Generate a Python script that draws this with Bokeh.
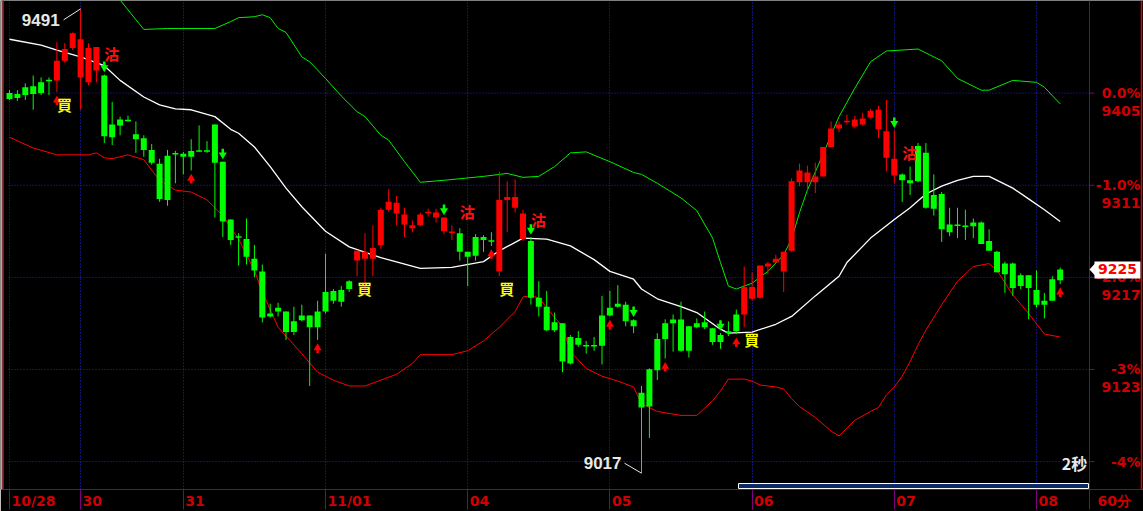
import numpy as np
from bokeh.plotting import figure
from bokeh.models import (Range1d, LinearAxis, FixedTicker, ColumnDataSource, Grid,
                          CustomJSTickFormatter)
from bokeh.core.properties import value
from bokeh.embed import file_html
from bokeh.resources import INLINE

# ---------------- data ----------------
day_labels = ["10/28", "30", "31", "11/01", "04", "05", "06", "07", "08"]
day_start_bars = [0, 9, 22, 40, 58, 76, 94, 112, 130]

opens = [9405, 9404, 9411, 9412, 9416, 9418, 9418, 9438, 9451, 9421,
         9416, 9428, 9423, 9373, 9378, 9377, 9363, 9359, 9347, 9333,
         9341, 9343, 9343, 9346, 9346, 9346, 9373, 9335, 9276, 9258,
         9256, 9236, 9223, 9180, 9186, 9182, 9172, 9178, 9178, 9182,
         9202, 9203, 9204, 9213, 9234, 9236, 9236, 9250, 9286, 9282,
         9271, 9267, 9270, 9283, 9278, 9264, 9263, 9262, 9243, 9258,
         9258, 9254, 9223, 9296, 9288, 9256, 9254, 9196, 9187, 9171,
         9170, 9156, 9155, 9147, 9147, 9178, 9186, 9190, 9189, 9173,
         9099, 9123, 9154, 9170, 9174, 9174, 9167, 9170, 9171, 9165,
         9158, 9162, 9179, 9179, 9195, 9196, 9228, 9232, 9223, 9244,
         9314, 9314, 9314, 9320, 9350, 9369, 9376, 9371, 9373, 9380,
         9368, 9339, 9321, 9322, 9316, 9351, 9344, 9301, 9302, 9271,
         9270, 9269, 9273, 9273, 9254, 9243, 9231, 9231, 9219, 9219,
         9204, 9193, 9215, 9225]
highs = [9408, 9408, 9415, 9423, 9421, 9421, 9457, 9456, 9467, 9491,
         9456, 9452, 9424, 9396, 9381, 9382, 9376, 9362, 9353, 9338,
         9347, 9346, 9345, 9358, 9372, 9356, 9373, 9335, 9276, 9262,
         9277, 9250, 9230, 9190, 9191, 9182, 9187, 9189, 9178, 9193,
         9241, 9205, 9208, 9214, 9244, 9262, 9270, 9288, 9307, 9300,
         9288, 9275, 9283, 9287, 9287, 9278, 9270, 9267, 9243, 9261,
         9260, 9263, 9325, 9315, 9317, 9286, 9258, 9213, 9203, 9181,
         9170, 9158, 9162, 9152, 9156, 9198, 9203, 9209, 9192, 9174,
         9106, 9124, 9160, 9174, 9179, 9192, 9167, 9175, 9182, 9165,
         9160, 9172, 9184, 9228, 9222, 9229, 9233, 9240, 9243, 9318,
         9333, 9331, 9334, 9350, 9376, 9376, 9383, 9382, 9385, 9389,
         9392, 9398, 9367, 9323, 9330, 9354, 9354, 9322, 9304, 9288,
         9288, 9286, 9277, 9274, 9266, 9244, 9233, 9232, 9221, 9219,
         9224, 9201, 9218, 9227]
lows = [9398, 9397, 9398, 9388, 9403, 9403, 9406, 9436, 9449, 9388,
        9413, 9416, 9354, 9352, 9362, 9376, 9344, 9340, 9332, 9294,
        9290, 9313, 9322, 9326, 9345, 9344, 9278, 9258, 9250, 9229,
        9230, 9217, 9171, 9176, 9177, 9153, 9158, 9172, 9106, 9153,
        9180, 9190, 9187, 9202, 9218, 9200, 9218, 9246, 9284, 9270,
        9258, 9263, 9269, 9279, 9273, 9261, 9255, 9234, 9208, 9234,
        9243, 9249, 9218, 9263, 9283, 9254, 9189, 9177, 9162, 9161,
        9120, 9128, 9146, 9139, 9142, 9128, 9177, 9186, 9167, 9160,
        9017, 9053, 9112, 9134, 9141, 9141, 9135, 9165, 9164, 9148,
        9144, 9157, 9159, 9166, 9193, 9195, 9220, 9232, 9202, 9243,
        9310, 9306, 9303, 9320, 9350, 9365, 9373, 9369, 9372, 9379,
        9359, 9325, 9313, 9294, 9301, 9314, 9287, 9280, 9253, 9259,
        9257, 9255, 9257, 9251, 9244, 9222, 9201, 9198, 9205, 9174,
        9186, 9175, 9193, 9210]
closes = [9399, 9400, 9403, 9404, 9405, 9418, 9438, 9450, 9466, 9460,
          9451, 9452, 9361, 9360, 9372, 9377, 9358, 9347, 9334, 9297,
          9296, 9343, 9340, 9340, 9346, 9346, 9334, 9274, 9255, 9258,
          9238, 9224, 9176, 9177, 9182, 9161, 9161, 9173, 9166, 9166,
          9182, 9193, 9192, 9205, 9244, 9243, 9247, 9286, 9294, 9293,
          9281, 9270, 9281, 9283, 9283, 9278, 9263, 9243, 9238, 9239,
          9255, 9254, 9296, 9299, 9299, 9282, 9196, 9187, 9163, 9163,
          9131, 9129, 9148, 9147, 9147, 9147, 9178, 9187, 9172, 9167,
          9084, 9085, 9122, 9154, 9170, 9142, 9142, 9166, 9166, 9151,
          9151, 9160, 9162, 9207, 9207, 9229, 9231, 9236, 9243, 9315,
          9326, 9324, 9320, 9350, 9369, 9373, 9376, 9378, 9379, 9387,
          9388, 9366, 9338, 9316, 9313, 9315, 9288, 9287, 9266, 9263,
          9270, 9269, 9269, 9251, 9244, 9222, 9220, 9206, 9208, 9206,
          9189, 9189, 9193, 9214]

buy_bars = [6, 44, 62, 93]          # 買 signals (start of red runs)
sell_bars = [12, 57, 66, 113]       # 沽 signals (start of green runs)
up_arrow_bars = [6, 23, 39, 61, 76, 83, 92, 133]
down_arrow_bars = [12, 27, 55, 66, 79, 90, 112]

mid_bars = [0, 4, 6, 9, 12, 14, 17, 19, 21, 23, 26, 28, 29, 31, 33, 35, 37, 40, 43, 47,
            52, 56, 60, 62, 65, 68, 71, 74, 76, 79, 80, 82, 85, 87, 90, 91, 94, 97, 99, 102,
            105, 106, 109, 112, 114, 116, 118, 120, 122, 124, 127, 129, 131, 133]
mid_vals = [9460, 9454, 9449, 9442, 9433, 9418, 9401, 9393, 9389, 9388,
            9381, 9368, 9364, 9350, 9330, 9308, 9289, 9264, 9248, 9237,
            9226, 9227, 9233, 9244, 9257, 9256, 9249, 9235, 9223, 9215,
            9205, 9195, 9187, 9181, 9164, 9160, 9161, 9169, 9177, 9198,
            9218, 9232, 9257, 9276, 9288, 9302, 9310, 9316, 9320, 9320,
            9308, 9297, 9286, 9274]
upper_bars = [12, 14, 17, 20, 26, 28, 29, 31, 32, 33, 34, 35, 37, 38, 40, 42, 44, 45, 47, 48,
              50, 52, 55, 60, 63, 65, 67, 69, 71, 73, 76, 79, 80, 82, 85, 87, 89, 90, 91, 92,
              94, 96, 98, 99, 100, 101, 103, 105, 107, 109, 111, 115, 118, 120, 123, 124, 127,
              130, 131, 133]
upper_vals = [9522, 9500, 9470, 9471, 9471, 9478, 9482, 9483, 9485, 9482,
              9471, 9467, 9442, 9437, 9420, 9402, 9386, 9381, 9362, 9357,
              9335, 9314, 9316, 9320, 9323, 9319, 9320, 9330, 9344, 9345,
              9335, 9324, 9322, 9313, 9298, 9285, 9257, 9232, 9208, 9205,
              9211, 9223, 9240, 9256, 9283, 9306, 9343, 9381, 9410, 9437,
              9448, 9450, 9438, 9420, 9408, 9408, 9418, 9416, 9411, 9394]
lower_bars = [0, 3, 6, 10, 11, 12, 13, 15, 17, 19, 21, 23, 25, 27, 29, 31, 32, 34, 37, 39,
              41, 43, 45, 47, 49, 51, 52, 56, 58, 60, 62, 64, 65, 66, 67, 68, 69, 70, 71, 73,
              75, 77, 79, 80, 82, 85, 87, 89, 90, 91, 93, 94, 95, 97, 98, 99, 100, 102, 104, 105,
              106, 107, 109, 110, 111, 112, 113, 114, 115, 116, 118, 120, 122, 124, 125, 127,
              129, 131, 133]
lower_vals = [9360, 9349, 9342, 9342, 9344, 9339, 9338, 9342, 9337, 9316,
              9306, 9304, 9296, 9280, 9256, 9224, 9202, 9166, 9139, 9120,
              9112, 9106, 9106, 9112, 9118, 9129, 9138, 9138, 9142, 9152,
              9166, 9182, 9197, 9198, 9196, 9186, 9176, 9167, 9141, 9124,
              9116, 9111, 9105, 9088, 9080, 9076, 9076, 9091, 9101, 9113,
              9113, 9111, 9107, 9105, 9103, 9093, 9085, 9074, 9060, 9055,
              9063, 9071, 9080, 9084, 9097, 9105, 9116, 9131, 9148, 9163,
              9189, 9213, 9228, 9231, 9224, 9199, 9180, 9159, 9156]

base_price = 9405
pct_levels = [0.0, -1.0, -2.0, -3.0, -4.0]
pct_labels = ["0.0%", "-1.0%", "-2.0%", "-3%", "-4%"]
price_label_levels = 4          # price shown under the first four percent labels
last_price = 9225
timeframe_label = "60分"
refresh_label = "2秒"
buy_text = "買"
sell_text = "沽"

# ---------------- geometry / style ----------------
W, H = 1143, 511
PLOT_L, PLOT_R, FR_B = 8, 1089, 491
BAR_PX = 7.9
BAR0 = 9.0
GRID0_PX = 93.0
PX_PER_PT = 370.0 / (base_price * 0.04)
PT = 1.0 / PX_PER_PT

BG = "#000000"
UP_COL = "#ff0000"
DN_COL = "#00ff00"
AXIS_COL = "#800080"
GRID_COL = "#2424dd"
LBL_RED = "#d00000"
WHITE_TXT = "#e8e8e8"
NUM_FONT = "DejaVu Sans"
CJK_FONT = "Noto Sans CJK TC"
LBL_SIZE = 14


def xdat(px):
    return (px - BAR0) / BAR_PX


def ydat(py):
    return base_price + (GRID0_PX - py) * PT


def text_w(s, size=LBL_SIZE):
    w = 0.0
    for ch in s:
        if ch.isdigit():
            w += 0.696
        elif ch in "/.":
            w += 0.365
        elif ord(ch) > 0x2e80:
            w += 1.0
        else:
            w += 0.6
    return w * size


p = figure(width=W, height=H,
           x_range=Range1d(xdat(0), xdat(W)),
           y_range=Range1d(ydat(FR_B), ydat(0)),
           output_backend="svg", toolbar_location=None,
           x_axis_location=None, y_axis_location=None,
           min_border_left=0, min_border_right=0,
           min_border_top=0, min_border_bottom=H - FR_B,
           background_fill_color=BG, border_fill_color=BG,
           outline_line_color=None)
p.center = [r for r in p.center if not isinstance(r, Grid)]

# ---- bottom (date) axis: separators as minor ticks, labels just right of them ----
sep_x = [float(b) for b in day_start_bars] + [xdat(PLOT_R)]
all_labels = day_labels + [timeframe_label]
label_pad = [2.0] * len(day_labels) + [8.0]
label_x = [s + (pad + text_w(t) / 2) / BAR_PX for s, t, pad in zip(sep_x, all_labels, label_pad)]

xax = LinearAxis(ticker=FixedTicker(ticks=label_x, minor_ticks=sep_x),
                 formatter=CustomJSTickFormatter(
                     args=dict(pos=label_x, labels=all_labels),
                     code="""
                     let best = 0, bd = Infinity;
                     for (let i = 0; i < pos.length; i++) {
                         const d = Math.abs(pos[i] - tick);
                         if (d < bd) { bd = d; best = i; }
                     }
                     return labels[best];
                     """),
                 bounds=(xdat(PLOT_L), xdat(W)),
                 axis_line_color=AXIS_COL,
                 major_tick_line_color=None, major_tick_out=20, major_tick_in=0,
                 minor_tick_line_color=AXIS_COL, minor_tick_out=20, minor_tick_in=0,
                 major_label_standoff=-17,
                 major_label_text_color=LBL_RED,
                 major_label_text_font=NUM_FONT,
                 major_label_text_font_style="bold",
                 major_label_text_font_size=f"{LBL_SIZE}px")
p.add_layout(xax, "below")

# vertical day separators (dotted)
p.add_layout(Grid(dimension=0, ticker=FixedTicker(ticks=day_start_bars),
                  grid_line_color=GRID_COL, grid_line_dash="1 2", grid_line_width=1))

# horizontal percent grid lines (dotted), limited to the price area
grid_prices = [base_price * (1 + v / 100.0) for v in pct_levels]
p.segment(x0=[xdat(PLOT_L)] * len(grid_prices), x1=[xdat(PLOT_R)] * len(grid_prices),
          y0=grid_prices, y1=grid_prices, line_color=GRID_COL, line_dash="1 2",
          line_width=1)

# ---- bollinger-style bands ----
p.line(upper_bars, upper_vals, line_color="#00ee00", line_width=1)
p.line(lower_bars, lower_vals, line_color="#ff0000", line_width=1)
p.line(mid_bars, mid_vals, line_color="#ffffff", line_width=1.3)

# ---- candles (colour = regime between buy / sell signals) ----
n = len(opens)
colours = []
state = DN_COL
for i in range(n):
    if i in buy_bars:
        state = UP_COL
    if i in sell_bars:
        state = DN_COL
    colours.append(state)

o = np.array(opens, float)
c = np.array(closes, float)
bt = np.maximum(o, c)
bb = np.minimum(o, c)
min_h = 1.5 * PT
thin = (bt - bb) < min_h
mid = (bt + bb) / 2
bt = np.where(thin, mid + min_h / 2, bt)
bb = np.where(thin, mid - min_h / 2, bb)

src = ColumnDataSource(dict(x=list(range(n)), h=highs, l=lows, bt=bt, bb=bb, col=colours))
p.segment(x0="x", y0="l", x1="x", y1="h", line_color="col", line_width=1, source=src)
p.vbar(x="x", width=6.0 / BAR_PX, top="bt", bottom="bb", fill_color="col",
       line_color=None, source=src)

# ---- arrows ----
ua_low = [lows[i] for i in up_arrow_bars]
p.segment(x0=up_arrow_bars, x1=up_arrow_bars,
          y0=[v - 9 * PT for v in ua_low], y1=[v - 13 * PT for v in ua_low],
          line_color=UP_COL, line_width=2.5)
p.scatter(up_arrow_bars, [v - 8 * PT for v in ua_low], marker="triangle", size=8,
          fill_color=UP_COL, line_color=None)

da_high = [highs[i] for i in down_arrow_bars]
p.segment(x0=down_arrow_bars, x1=down_arrow_bars,
          y0=[v + 8 * PT for v in da_high], y1=[v + 13 * PT for v in da_high],
          line_color=DN_COL, line_width=2.5)
p.scatter(down_arrow_bars, [v + 7 * PT for v in da_high], marker="inverted_triangle",
          size=8, fill_color=DN_COL, line_color=None)

# ---- buy / sell texts ----
p.text(x=buy_bars, y=[lows[i] for i in buy_bars], text=[buy_text] * len(buy_bars),
       x_offset=7.5, y_offset=12, text_align="center", text_baseline="middle",
       text_color="#ffff00", text_font=value(CJK_FONT), text_font_style="bold",
       text_font_size="15px")
p.text(x=sell_bars, y=[opens[i] for i in sell_bars], text=[sell_text] * len(sell_bars),
       x_offset=7.5, y_offset=-22, text_align="center", text_baseline="middle",
       text_color="#ff1010", text_font=value(CJK_FONT), text_font_style="bold",
       text_font_size="15px")

# ---- extreme labels ----
hi_i = int(np.argmax(highs))
lo_i = int(np.argmin(lows))
hi_v = highs[hi_i]
lo_v = lows[lo_i]
p.segment(x0=[hi_i - 17 / BAR_PX, lo_i - 17 / BAR_PX], y0=[hi_v - 11 * PT, lo_v + 10 * PT],
          x1=[hi_i, lo_i], y1=[hi_v, lo_v], line_color=WHITE_TXT, line_width=1)
p.text(x=[hi_i], y=[hi_v], text=[str(hi_v)], x_offset=-21, y_offset=11,
       text_align="right", text_baseline="middle", text_color=WHITE_TXT,
       text_font=value("Liberation Sans"), text_font_style="bold", text_font_size="17px")
p.text(x=[lo_i], y=[lo_v], text=[str(lo_v)], x_offset=-20, y_offset=-10,
       text_align="right", text_baseline="middle", text_color=WHITE_TXT,
       text_font=value("Liberation Sans"), text_font_style="bold", text_font_size="17px")

p.text(x=[xdat(1074)], y=[ydat(464)], text=[refresh_label], text_align="center",
       text_baseline="middle", text_color=WHITE_TXT, text_font=value(CJK_FONT),
       text_font_style="bold", text_font_size="16px")

# ---- right price scale (drawn through the same scales) ----
p.segment(x0=[xdat(PLOT_R)], x1=[xdat(PLOT_R)], y0=[ydat(0)], y1=[ydat(FR_B)],
          line_color=AXIS_COL, line_width=1)
p.segment(x0=[xdat(PLOT_R)] * len(grid_prices), x1=[xdat(PLOT_R + 5)] * len(grid_prices),
          y0=grid_prices, y1=grid_prices, line_color=AXIS_COL, line_width=1)
p.text(x=[xdat(1140)] * len(grid_prices), y=grid_prices, text=pct_labels,
       text_align="right", text_baseline="middle", text_color=LBL_RED,
       text_font=value(NUM_FONT), text_font_style="bold", text_font_size=f"{LBL_SIZE}px")
price_lvls = grid_prices[:price_label_levels]
p.text(x=[xdat(1140)] * len(price_lvls), y=[v - 18 * PT for v in price_lvls],
       text=[str(int(round(v))) for v in price_lvls],
       text_align="right", text_baseline="middle", text_color=LBL_RED,
       text_font=value(NUM_FONT), text_font_style="bold", text_font_size=f"{LBL_SIZE}px")

# current price tag
p.quad(left=[xdat(1094)], right=[xdat(1140)], top=[last_price + 8 * PT],
       bottom=[last_price - 9 * PT], fill_color="#ffffff", line_color=None)
p.patch(x=[xdat(PLOT_R), xdat(1094.5), xdat(1094.5)],
        y=[last_price, last_price + 6 * PT, last_price - 6 * PT],
        fill_color="#ffffff", line_color=None)
p.text(x=[xdat(1117)], y=[last_price], text=[str(last_price)], text_align="center",
       text_baseline="middle", text_color="#ff0000", text_font=value(NUM_FONT),
       text_font_style="bold", text_font_size=f"{LBL_SIZE}px")

# ---- chrome: scroll bar, border lines ----
p.quad(left=[xdat(738)], right=[xdat(1088)], top=[ydat(485)], bottom=[ydat(490)],
       fill_color="#0e2a66", line_color="#ffffff", line_width=1)
p.segment(x0=[xdat(1141)], x1=[xdat(1141)], y0=[ydat(0)], y1=[ydat(FR_B)],
          line_color="#e00000", line_width=1.5)
p.segment(x0=[xdat(1)], x1=[xdat(1)], y0=[ydat(0)], y1=[ydat(FR_B)],
          line_color="#a8a8a8", line_width=2)
p.segment(x0=[xdat(2.7)], x1=[xdat(2.7)], y0=[ydat(0)], y1=[ydat(FR_B)],
          line_color="#e00000", line_width=1.2)

open("out.html", "w").write(file_html(p, INLINE))
